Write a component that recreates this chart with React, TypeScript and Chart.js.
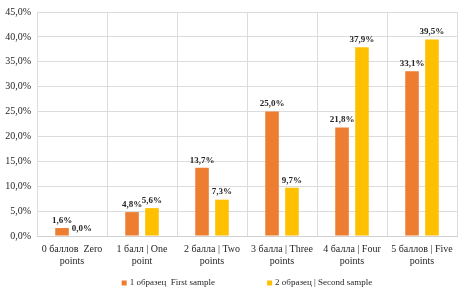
import React, { useEffect, useRef } from "react";
import { Chart, registerables } from "chart.js";

Chart.register(...registerables);

const categories: string[][] = [
  ["0 баллов  Zero", "points"],
  ["1 балл | One", "point"],
  ["2 балла | Two", "points"],
  ["3 балла | Three", "points"],
  ["4 балла | Four", "points"],
  ["5 баллов | Five", "points"],
];
const seriesNames = ["1 образец  First sample", "2 образец | Second sample"];
const firstSample = [1.6, 4.8, 13.7, 25.0, 21.8, 33.1];
const secondSample = [0.0, 5.6, 7.3, 9.7, 37.9, 39.5];
const colors = ["#ED7D31", "#FFC000"];

const fmt = (v: number) => v.toFixed(1).replace(".", ",") + "%";
const FONT = "'Liberation Serif', serif";

const labelPlugin = {
  id: "barLabels",
  afterDatasetsDraw(chart: any) {
    const ctx = chart.ctx;
    ctx.save();
    ctx.font = `bold 9px ${FONT}`;
    ctx.fillStyle = "#262626";
    ctx.textAlign = "center";
    ctx.textBaseline = "bottom";
    chart.data.datasets.forEach((ds: any, di: number) => {
      const meta = chart.getDatasetMeta(di);
      meta.data.forEach((bar: any, i: number) => {
        ctx.fillText(fmt(ds.data[i]), bar.x, bar.y - 3);
      });
    });
    ctx.restore();
  },
};

const legendPlugin = {
  id: "customLegend",
  afterDraw(chart: any) {
    const ctx = chart.ctx;
    ctx.save();
    ctx.font = `9px ${FONT}`;
    ctx.textBaseline = "middle";
    ctx.textAlign = "left";
    const box = 5;
    const gapAfterBox = 3;
    const itemGap = 52;
    const items = chart.data.datasets.map((ds: any) => ({
      label: ds.label,
      color: ds.backgroundColor,
      w: box + gapAfterBox + ctx.measureText(ds.label).width,
    }));
    const total = items.reduce((s: number, it: any) => s + it.w, 0) + itemGap * (items.length - 1);
    const area = chart.chartArea;
    let x = (area.left + area.right) / 2 - total / 2;
    const y = 283;
    items.forEach((it: any) => {
      ctx.fillStyle = it.color;
      ctx.fillRect(x, y - box / 2, box, box);
      ctx.fillStyle = "#262626";
      ctx.fillText(it.label, x + box + gapAfterBox, y);
      x += it.w + itemGap;
    });
    ctx.restore();
  },
};

export default function App() {
  const ref = useRef<HTMLCanvasElement>(null);
  useEffect(() => {
    document.body.style.margin = "0";
    const chart = new Chart(ref.current!, {
      type: "bar",
      data: {
        labels: categories,
        datasets: [
          { label: seriesNames[0], data: firstSample, backgroundColor: colors[0] },
          { label: seriesNames[1], data: secondSample, backgroundColor: colors[1] },
        ],
      },
      options: {
        animation: false,
        responsive: false,
        layout: { padding: { left: 0, right: 6, top: 5, bottom: 19 } },
        datasets: { bar: { categoryPercentage: 0.57, barPercentage: 0.68 } },
        plugins: {
          legend: { display: false },
          tooltip: { enabled: false },
        },
        scales: {
          x: {
            grid: { color: "#dcdcdc", offset: true, drawTicks: false },
            border: { color: "#d0d0d0" },
            ticks: {
              color: "#262626",
              padding: 7,
              maxRotation: 0,
              autoSkip: false,
              font: { size: 10, family: FONT, lineHeight: 1.2 },
            },
            afterFit: (s: any) => { s.height = 36; },
          },
          y: {
            min: 0,
            max: 45,
            grid: { color: "#dcdcdc", drawTicks: false },
            border: { display: false },
            ticks: {
              stepSize: 5,
              padding: 6,
              color: "#262626",
              font: { size: 10, family: FONT },
              callback: (v: any) => fmt(Number(v)),
            },
            afterFit: (s: any) => { s.width = 37; },
          },
        },
      },
      plugins: [labelPlugin, legendPlugin],
    });
    return () => chart.destroy();
  }, []);
  return <canvas ref={ref} width={463} height={291} style={{ display: "block" }} />;
}
